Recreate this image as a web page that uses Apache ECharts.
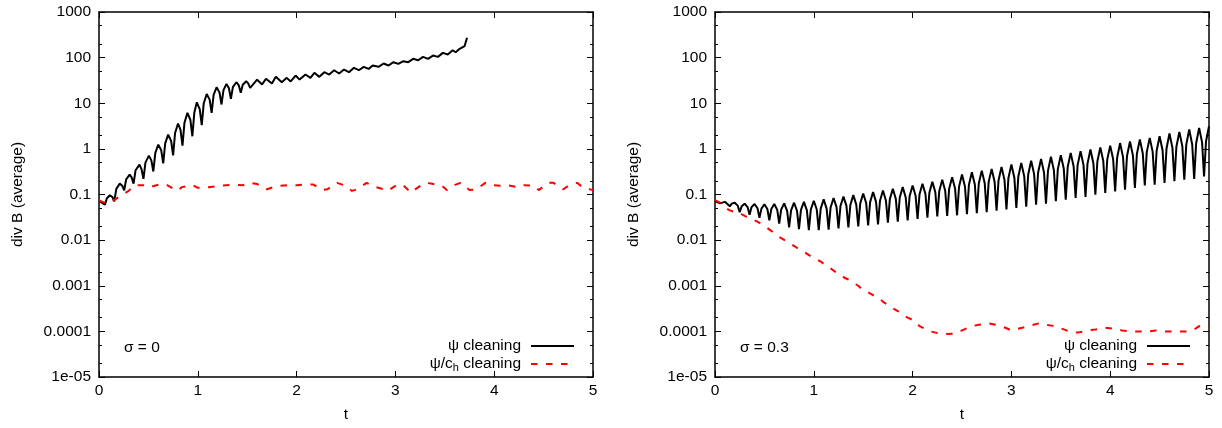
<!DOCTYPE html>
<html>
<head>
<meta charset="utf-8">
<script src="https://cdn.jsdelivr.net/npm/echarts@6/dist/echarts.min.js"></script>
<style>
  html, body { margin: 0; padding: 0; background: #fff; }
  #chart { width: 1222px; height: 428px; }
</style>
</head>
<body>
<div id="chart"></div>
<script>
const legendNames = ["ψ cleaning", "ψ/ch cleaning"];
const panelLabels = ["σ = 0", "σ = 0.3"];
const yTickValues = [1e-5, 1e-4, 1e-3, 1e-2, 0.1, 1, 10, 100, 1000];
const yTickLabels = ["1e-05", "0.0001", "0.001", "0.01", "0.1", "1", "10", "100", "1000"];
const yMinorValues = [2e-5, 5e-5, 2e-4, 5e-4, 0.002, 0.005, 0.02, 0.05, 0.2, 0.5, 2, 5, 20, 50, 200, 500];

// sigma = 0, psi cleaning (black)
const psiLeft = [
  [0, 0.072], [0.06, 0.06], [0.08, 0.083], [0.11, 0.096], [0.135, 0.088], [0.155, 0.071],
  [0.175, 0.133], [0.21, 0.173], [0.235, 0.156], [0.255, 0.124],
  [0.275, 0.215], [0.31, 0.273], [0.33, 0.237], [0.35, 0.173],
  [0.37, 0.34], [0.41, 0.453], [0.43, 0.36], [0.45, 0.22],
  [0.47, 0.5], [0.505, 0.71], [0.53, 0.56], [0.55, 0.32],
  [0.57, 0.82], [0.6, 1.24], [0.63, 0.93], [0.65, 0.48],
  [0.67, 1.32], [0.7, 2.06], [0.73, 1.5], [0.75, 0.72],
  [0.77, 2.23], [0.8, 3.6], [0.825, 2.6], [0.845, 1.18],
  [0.865, 3.75], [0.895, 6.15], [0.925, 4.3], [0.945, 1.89],
  [0.965, 6.3], [0.99, 10.5], [1.02, 7.35], [1.04, 3.3],
  [1.06, 9.9], [1.09, 16], [1.12, 12], [1.14, 6.15],
  [1.16, 15.2], [1.19, 22.4], [1.22, 17.2], [1.24, 9.4],
  [1.26, 19.4], [1.29, 26.6], [1.315, 21.3], [1.335, 12.5],
  [1.355, 22.5], [1.39, 28.9], [1.415, 24.6], [1.435, 16.9],
  [1.455, 25.5], [1.49, 30.3], [1.51, 27.3], [1.53, 21.8],
  [1.6, 33], [1.65, 25.7], [1.69, 34.3], [1.75, 27], [1.79, 37.9], [1.85, 28.9],
  [1.9, 36], [1.94, 30], [1.99, 40.5], [2.03, 33], [2.09, 42.6], [2.14, 36],
  [2.18, 46.4], [2.23, 37.9], [2.28, 47.9], [2.33, 42.6], [2.38, 53], [2.43, 44.8],
  [2.48, 54.8], [2.53, 47.9], [2.58, 59.7], [2.63, 53], [2.68, 62.8], [2.73, 56.7],
  [2.77, 67.1], [2.83, 62.8], [2.88, 74.3], [2.93, 67.1], [2.98, 79.4], [3.03, 73],
  [3.08, 83.4], [3.13, 79.4], [3.18, 94.2], [3.23, 87.8], [3.28, 104], [3.33, 94.2],
  [3.38, 111], [3.43, 104], [3.48, 127], [3.53, 117], [3.58, 145], [3.61, 131],
  [3.65, 156], [3.67, 145], [3.7, 178], [3.71, 164], [3.725, 272]
];

// sigma = 0, psi/ch cleaning (red dashed)
const psiChLeft = [
  [0, 0.074], [0.08, 0.063], [0.16, 0.077], [0.3, 0.12], [0.36, 0.16], [0.46, 0.16],
  [0.52, 0.145], [0.58, 0.16], [0.63, 0.17], [0.69, 0.16], [0.79, 0.12], [0.84, 0.145],
  [0.95, 0.16], [1.0, 0.14], [1.11, 0.145], [1.17, 0.15], [1.29, 0.16], [1.35, 0.163],
  [1.46, 0.16], [1.52, 0.18], [1.6, 0.17], [1.7, 0.13], [1.8, 0.155], [1.94, 0.16],
  [2.0, 0.16], [2.1, 0.165], [2.17, 0.165], [2.26, 0.125], [2.31, 0.13], [2.41, 0.18],
  [2.48, 0.16], [2.56, 0.12], [2.61, 0.13], [2.71, 0.18], [2.76, 0.155], [2.88, 0.13],
  [2.92, 0.12], [3.01, 0.16], [3.07, 0.165], [3.16, 0.11], [3.2, 0.13], [3.3, 0.18],
  [3.36, 0.175], [3.47, 0.155], [3.52, 0.125], [3.61, 0.165], [3.66, 0.18], [3.75, 0.125],
  [3.82, 0.13], [3.91, 0.18], [3.97, 0.16], [4.07, 0.155], [4.13, 0.16], [4.24, 0.145],
  [4.3, 0.16], [4.41, 0.155], [4.45, 0.125], [4.55, 0.18], [4.6, 0.18], [4.7, 0.13],
  [4.75, 0.155], [4.84, 0.18], [4.9, 0.14], [5.0, 0.125]
];

// sigma = 0.3, psi cleaning (black)
const psiRight = [
  [0, 0.072], [0.05, 0.064], [0.1, 0.069], [0.15, 0.055],
  [0.17, 0.063], [0.2, 0.066], [0.23, 0.057], [0.25, 0.041],
  [0.27, 0.055], [0.3, 0.063], [0.33, 0.053], [0.35, 0.036],
  [0.37, 0.053], [0.4, 0.062], [0.43, 0.05], [0.45, 0.031],
  [0.47, 0.049], [0.5, 0.061], [0.53, 0.048], [0.55, 0.027],
  [0.57, 0.048], [0.6, 0.062], [0.63, 0.046], [0.65, 0.023],
  [0.67, 0.047], [0.7, 0.064], [0.73, 0.044], [0.75, 0.019],
  [0.77, 0.045], [0.8, 0.066], [0.83, 0.044], [0.85, 0.0175],
  [0.87, 0.046], [0.9, 0.069], [0.93, 0.045], [0.95, 0.0165],
  [0.97, 0.047], [1.0, 0.073], [1.03, 0.047], [1.05, 0.0165],
  [1.07, 0.049], [1.1, 0.078], [1.13, 0.049], [1.15, 0.017],
  [1.17, 0.052], [1.2, 0.084], [1.23, 0.053], [1.25, 0.018],
  [1.27, 0.056], [1.3, 0.09], [1.33, 0.057], [1.35, 0.019],
  [1.37, 0.059], [1.4, 0.097], [1.43, 0.06], [1.45, 0.02],
  [1.47, 0.064], [1.5, 0.105], [1.53, 0.065], [1.55, 0.021],
  [1.57, 0.068], [1.6, 0.113], [1.63, 0.069], [1.65, 0.022],
  [1.67, 0.073], [1.7, 0.122], [1.73, 0.074], [1.75, 0.024],
  [1.77, 0.08], [1.8, 0.133], [1.83, 0.081], [1.85, 0.0255],
  [1.87, 0.086], [1.9, 0.145], [1.93, 0.087], [1.95, 0.027],
  [1.97, 0.093], [2.0, 0.158], [2.03, 0.095], [2.05, 0.029],
  [2.07, 0.101], [2.1, 0.172], [2.13, 0.103], [2.15, 0.031],
  [2.17, 0.11], [2.2, 0.19], [2.23, 0.112], [2.25, 0.033],
  [2.27, 0.12], [2.3, 0.21], [2.33, 0.121], [2.35, 0.034],
  [2.37, 0.134], [2.4, 0.24], [2.43, 0.135], [2.45, 0.035],
  [2.47, 0.148], [2.5, 0.273], [2.53, 0.15], [2.55, 0.037],
  [2.57, 0.163], [2.6, 0.307], [2.63, 0.165], [2.65, 0.039],
  [2.67, 0.174], [2.7, 0.334], [2.73, 0.176], [2.75, 0.041],
  [2.77, 0.189], [2.8, 0.364], [2.83, 0.191], [2.85, 0.044],
  [2.87, 0.206], [2.9, 0.403], [2.93, 0.209], [2.95, 0.047],
  [2.97, 0.231], [3.0, 0.453], [3.03, 0.234], [3.05, 0.051],
  [3.07, 0.247], [3.1, 0.493], [3.13, 0.25], [3.15, 0.054],
  [3.17, 0.275], [3.2, 0.55], [3.23, 0.28], [3.25, 0.06],
  [3.27, 0.3], [3.3, 0.6], [3.33, 0.305], [3.35, 0.063],
  [3.37, 0.33], [3.4, 0.67], [3.43, 0.34], [3.45, 0.071],
  [3.47, 0.36], [3.5, 0.724], [3.53, 0.37], [3.55, 0.077],
  [3.57, 0.4], [3.6, 0.816], [3.63, 0.41], [3.65, 0.084],
  [3.67, 0.44], [3.7, 0.886], [3.73, 0.44], [3.75, 0.0885],
  [3.77, 0.47], [3.8, 0.966], [3.83, 0.48], [3.85, 0.0995],
  [3.87, 0.53], [3.9, 1.08], [3.93, 0.54], [3.95, 0.108],
  [3.97, 0.58], [4.0, 1.18], [4.03, 0.59], [4.05, 0.117],
  [4.07, 0.64], [4.1, 1.34], [4.13, 0.66], [4.15, 0.128],
  [4.17, 0.7], [4.2, 1.45], [4.23, 0.72], [4.25, 0.14],
  [4.27, 0.77], [4.3, 1.6], [4.33, 0.79], [4.35, 0.157],
  [4.37, 0.85], [4.4, 1.74], [4.43, 0.86], [4.45, 0.165],
  [4.47, 0.91], [4.5, 1.89], [4.53, 0.93], [4.55, 0.18],
  [4.57, 1.02], [4.6, 2.17], [4.63, 1.05], [4.65, 0.195],
  [4.67, 1.11], [4.7, 2.36], [4.73, 1.15], [4.75, 0.212],
  [4.77, 1.24], [4.8, 2.65], [4.83, 1.25], [4.85, 0.22],
  [4.87, 1.33], [4.9, 2.88], [4.93, 1.39], [4.95, 0.25],
  [4.97, 1.47], [5.0, 3.13]
];

// sigma = 0.3, psi/ch cleaning (red dashed)
const psiChRight = [
  [0, 0.075], [0.05, 0.066], [0.1, 0.052], [0.15, 0.045], [0.2, 0.041], [0.25, 0.039],
  [0.3, 0.034], [0.36, 0.03], [0.42, 0.026], [0.47, 0.0225], [0.52, 0.019], [0.57, 0.016],
  [0.62, 0.013], [0.67, 0.011], [0.72, 0.0095], [0.77, 0.0082], [0.82, 0.007], [0.87, 0.006],
  [0.92, 0.0052], [0.97, 0.0044], [1.02, 0.0039], [1.07, 0.0034], [1.12, 0.0028], [1.17, 0.0024],
  [1.22, 0.002], [1.27, 0.0018], [1.31, 0.0015], [1.35, 0.00137], [1.4, 0.00116], [1.45, 0.001],
  [1.5, 0.0008], [1.55, 0.00072], [1.6, 0.00062], [1.66, 0.00053], [1.71, 0.00043], [1.76, 0.00037],
  [1.81, 0.00031], [1.86, 0.00027], [1.9, 0.00023], [1.95, 0.0002], [2.02, 0.00017], [2.07, 0.00013],
  [2.12, 0.000115], [2.18, 0.0001], [2.26, 0.000091], [2.33, 0.000087], [2.43, 0.00009], [2.5, 0.000105],
  [2.6, 0.00013], [2.67, 0.00014], [2.77, 0.00015], [2.84, 0.00014], [2.94, 0.00012], [3.0, 0.000105],
  [3.11, 0.00012], [3.17, 0.00013], [3.28, 0.00015], [3.34, 0.00014], [3.45, 0.00013], [3.51, 0.000115],
  [3.61, 0.000095], [3.68, 0.000095], [3.78, 0.000105], [3.85, 0.00011], [3.95, 0.00012], [4.02, 0.000115],
  [4.12, 0.000105], [4.19, 0.0001], [4.29, 0.0001], [4.36, 0.000098], [4.46, 0.000105], [4.53, 0.0001],
  [4.63, 0.0001], [4.7, 0.0001], [4.8, 0.0001], [4.85, 0.00011], [4.9, 0.00013], [5.0, 0.000125]
];

const font = "'Liberation Sans', Arial, Helvetica, sans-serif";
const black = "#000";
const axisLine = { show: true, lineStyle: { color: black, width: 1.5 } };
const textStyle = { color: black, fontSize: 15.5, fontFamily: font };

function yLabel(v) {
  const i = yTickValues.findIndex((t) => Math.abs(Math.log10(t) - Math.log10(v)) < 0.01);
  return i >= 0 ? yTickLabels[i] : "";
}

function xAxesFor(g) {
  const base = {
    gridIndex: g, type: "value", min: 0, max: 5, interval: 1,
    axisLine, splitLine: { show: false },
    axisTick: { inside: true, length: 6, lineStyle: { color: black, width: 1 } },
  };
  return [
    {
      ...base, position: "bottom",
      axisLabel: { ...textStyle, margin: 6 },
      name: "t", nameLocation: "middle", nameGap: 30, nameTextStyle: textStyle,
    },
    { ...base, position: "top", axisLabel: { show: false } },
  ];
}

function yAxesFor(g) {
  const base = { gridIndex: g, type: "log", logBase: 10, min: 1e-5, max: 1000, splitLine: { show: false } };
  const major = { show: true, inside: true, length: 6, customValues: yTickValues, lineStyle: { color: black, width: 1 } };
  const minor = { show: true, inside: true, length: 3, customValues: yMinorValues, lineStyle: { color: black, width: 1 } };
  return [
    {
      ...base, position: "left", axisLine, axisTick: major,
      axisLabel: { ...textStyle, margin: 8, customValues: yTickValues, formatter: yLabel },
      name: "div B (average)", nameLocation: "middle", nameGap: 73, nameTextStyle: textStyle,
    },
    { ...base, position: "left", axisLine: { show: false }, axisTick: minor, axisLabel: { show: false } },
    { ...base, position: "right", axisLine, axisTick: major, axisLabel: { show: false } },
    { ...base, position: "right", axisLine: { show: false }, axisTick: minor, axisLabel: { show: false } },
  ];
}

function lineSeries(name, data, g, dashed) {
  return {
    name, type: "line", data, xAxisIndex: g * 2, yAxisIndex: g * 4,
    symbol: "none", showSymbol: false, smooth: false, animation: false,
    lineStyle: dashed
      ? { color: "#ff0000", width: 2, type: [6.5, 8.5] }
      : { color: black, width: 2 },
    itemStyle: { color: dashed ? "#ff0000" : black },
  };
}

const chart = echarts.init(document.getElementById("chart"), null, { renderer: "canvas" });

const options = {
  animation: false,
  backgroundColor: "#fff",
  grid: [
    { left: 99, top: 12, width: 494, height: 365 },
    { left: 715, top: 12, width: 494, height: 365 },
  ],
  title: [
    { text: panelLabels[0], left: 124, top: 340, padding: 0, textStyle: { ...textStyle, fontWeight: "normal" } },
    { text: panelLabels[1], left: 740, top: 340, padding: 0, textStyle: { ...textStyle, fontWeight: "normal" } },
  ],
  legend: [647, 31].map((right) => ({
    orient: "vertical", right, top: 338, padding: 0, align: "right",
    itemWidth: 43, itemHeight: 14, itemGap: 2,
    data: legendNames,
    selectedMode: false,
    itemStyle: { opacity: 0 },
    formatter: (name) => (name === legendNames[1] ? "{n|ψ/c}{s|h}{n| cleaning}" : "{n|" + name + "}"),
    textStyle: {
      ...textStyle,
      padding: [0, 5, 0, 0],
      rich: {
        n: { ...textStyle },
        s: { color: black, fontSize: 11, fontFamily: font, padding: [8, 0, 0, 0] },
      },
    },
  })),
  xAxis: [...xAxesFor(0), ...xAxesFor(1)],
  yAxis: [...yAxesFor(0), ...yAxesFor(1)],
  series: [
    lineSeries(legendNames[0], psiLeft, 0, false),
    lineSeries(legendNames[1], psiChLeft, 0, true),
    lineSeries(legendNames[0], psiRight, 1, false),
    lineSeries(legendNames[1], psiChRight, 1, true),
  ],
};

chart.setOption(options);
</script>
</body>
</html>
